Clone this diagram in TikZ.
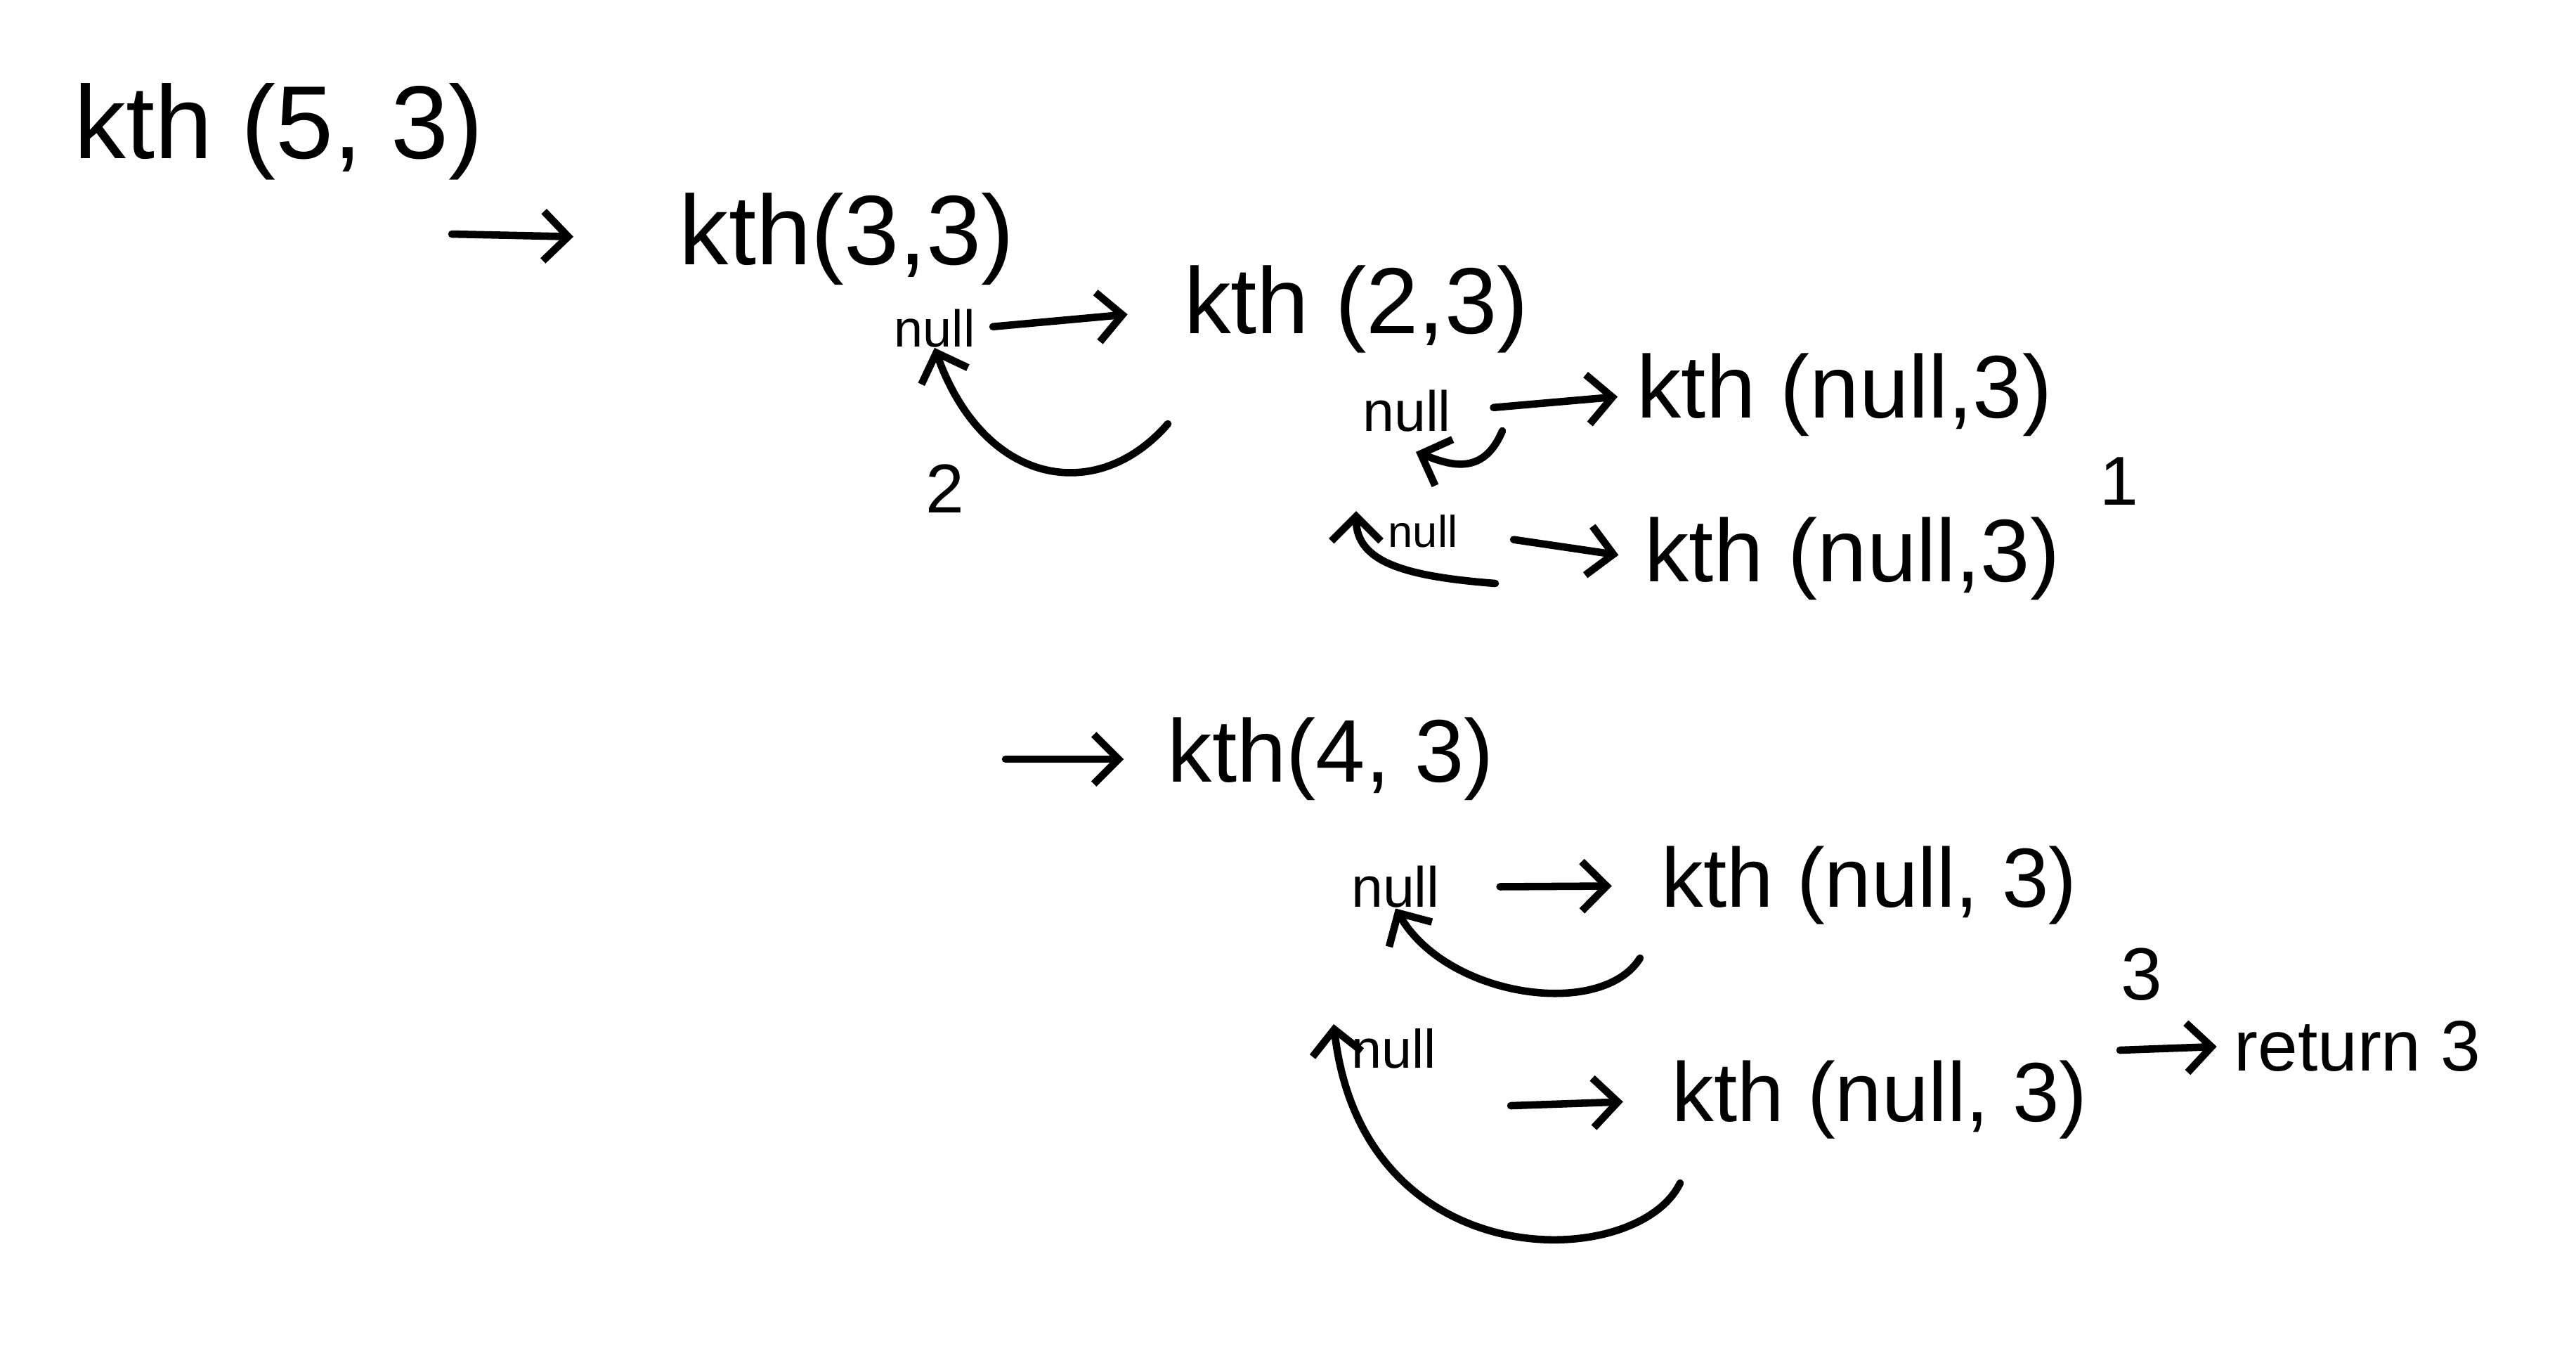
\documentclass[tikz,border=0pt]{standalone}
\usepackage{fontspec}
\setmainfont{Liberation Sans}
\usetikzlibrary{arrows.meta}
\begin{document}
\begin{tikzpicture}[
  hw/.style={font=\fontsize{#1}{#1}\selectfont, inner sep=0pt, anchor=center},
  pen/.style={line width=3pt, line cap=round, line join=round},
  conn/.style={pen, -{Straight Barb[length=10pt,width=20pt]}},
]
\useasboundingbox[fill=white] (0,0) rectangle (36.66,-19.21);
% text nodes
\node[hw=42] (k53) at (3.97,-1.87) {kth (5, 3)};
\node[hw=40] (k33) at (12.05,-3.40) {kth(3,3)};
\node[hw=21] (nl1) at (13.3,-4.67) {null};
\node[hw=38] (k23) at (19.30,-4.40) {kth (2,3)};
\node[hw=23] (nl2) at (20.02,-5.85) {null};
\node[hw=36] (ka) at (26.25,-5.62) {kth (null,3)};
\node[hw=18] (nl3) at (20.25,-7.56) {null};
\node[hw=36] (kb) at (26.36,-7.95) {kth (null,3)};
\node[hw=36] (k43) at (18.94,-10.8) {kth(4, 3)};
\node[hw=23] (nl4) at (19.86,-12.62) {null};
\node[hw=34] (kc) at (26.6,-12.6) {kth (null, 3)};
\node[hw=22] (nl5) at (19.84,-14.92) {null};
\node[hw=34] (kd) at (26.75,-15.65) {kth (null, 3)};
\node[hw=28] (one) at (30.16,-6.85) {1};
\node[hw=28] (two) at (13.45,-6.95) {2};
\node[hw=30] (three) at (30.48,-13.86) {3};
\node[hw=29] (ret) at (33.55,-14.88) {return 3};
% free ends
\coordinate (s1) at (6.43,-3.33);
\coordinate (s2) at (14.31,-10.8);
\coordinate (s3) at (30.17,-14.94);
\coordinate (s5) at (21.5,-15.73);
\coordinate (r1) at (16.62,-6.03);
\coordinate (r2) at (21.38,-6.13);
\coordinate (t2) at (20.15,-6.43);
\coordinate (r3) at (21.28,-8.30);
\coordinate (t3) at (19.30,-7.27);
\coordinate (r4) at (23.34,-13.63);
\coordinate (r5) at (23.91,-16.83);
\coordinate (t5) at (18.98,-14.57);
% straight arrows
\draw[conn, shorten >=1.5cm] (s1) -- (k33.west);
\draw[conn, shorten <=0.25cm, shorten >=0.8cm] (nl1.east) -- (k23.west);
\draw[conn, shorten <=0.6cm, shorten >=0.27cm] (nl2.east) -- (ka.west);
\draw[conn, shorten <=0.8cm, shorten >=0.37cm] (nl3.east) -- (kb.west);
\draw[conn, shorten >=0.62cm] (s2) -- (k43.west);
\draw[conn, shorten <=0.85cm, shorten >=0.7cm] (nl4.east) -- (kc.west);
\draw[conn, shorten >=0.69cm] (s5) -- (kd.west);
\draw[conn, shorten >=0.24cm] (s3) -- (ret.west);
% return curves
\draw[conn] (r1) .. controls (15.6,-7.2) and (14.0,-6.9) .. (nl1.south);
\draw[conn] (r2) .. controls (21.1,-6.8) and (20.6,-6.6) .. (t2);
\draw[conn] (r3) .. controls (20.0,-8.2) and (19.3,-8.0) .. (t3);
\draw[conn] (r4) .. controls (22.8,-14.5) and (20.6,-14.2) .. (nl4.south);
\draw[conn] (r5) .. controls (23.3,-18.1) and (19.4,-18.2) .. (t5);
\end{tikzpicture}
\end{document}
